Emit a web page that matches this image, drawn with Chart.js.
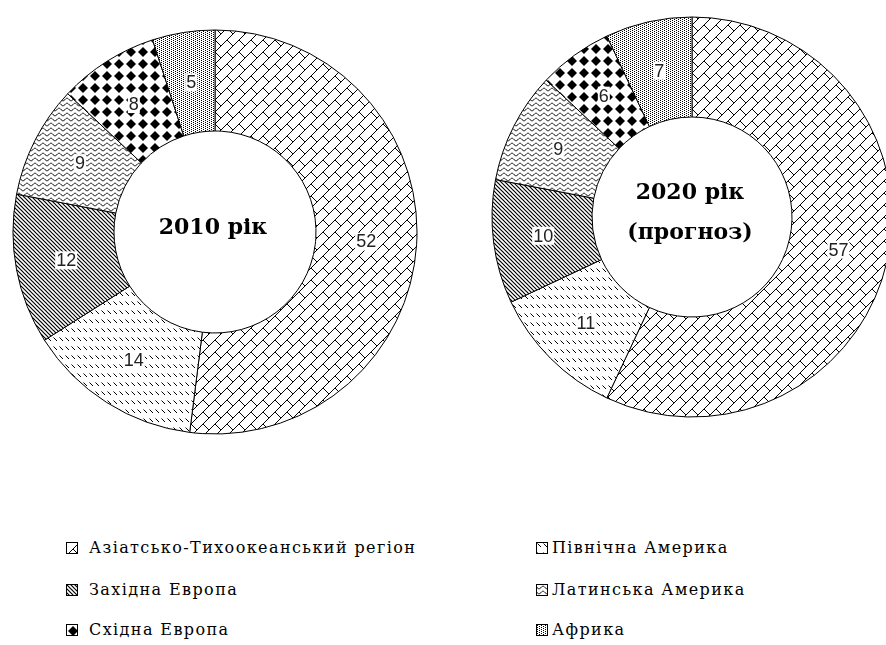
<!DOCTYPE html>
<html>
<head>
<meta charset="utf-8">
<script src="https://cdn.jsdelivr.net/npm/chart.js@4"></script>
<style>
  html, body { margin: 0; padding: 0; background: #fff; width: 886px; height: 645px; overflow: hidden; position: relative; }
  canvas.pie { position: absolute; }
  .leg { position: absolute; height: 20px; }
  .leg canvas { position: absolute; top: 4px; left: 0; border: 1px solid #000; }
  .leg span { position: absolute; top: 0; font-family: "DejaVu Serif", serif; font-size: 16px; letter-spacing: 1.4px; color: #000; white-space: nowrap; line-height: 20px; }
</style>
</head>
<body>
<canvas id="chart2010" class="pie" width="420" height="420" style="left:5px; top:22px"></canvas>
<canvas id="chart2020" class="pie" width="420" height="420" style="left:482px; top:7px"></canvas>
<div id="legend"></div>

<script>
// data (shares, %)
const regions = ['Азіатсько-Тихоокеанський регіон', 'Північна Америка', 'Західна Европа',
                 'Латинська Америка', 'Східна Европа', 'Африка'];
const values2010 = [52, 14, 12, 9, 8, 5];
const values2020 = [57, 11, 10, 9, 6, 7];
const title2010 = ['2010 рік'];
const title2020 = ['2020 рік', '(прогноз)'];

// black & white hatch fills
function makePattern(w, h, draw) {
    const c = document.createElement('canvas');
    c.width = w; c.height = h;
    const g = c.getContext('2d');
    g.fillStyle = '#fff';
    g.fillRect(0, 0, w, h);
    g.fillStyle = '#000';
    g.strokeStyle = '#000';
    g.lineWidth = 1;
    draw(g, w, h);
    return document.createElement('canvas').getContext('2d').createPattern(c, 'repeat');
}

function brick(g, w, h) {
    g.beginPath();
    g.moveTo(-1, h + 1); g.lineTo(w + 1, -1);
    g.moveTo(w / 2, h / 2); g.lineTo(w + 1, h + 1);
    g.stroke();
}
function dashes(g, w, h) {
    g.beginPath();
    g.moveTo(0.5, 0.5); g.lineTo(4, 4);
    g.stroke();
}
function wideDiag(g, w, h) {
    g.lineWidth = 1.2;
    g.beginPath();
    for (let k = -w; k <= w; k += w) {
        g.moveTo(k - 1, -1); g.lineTo(k + w + 1, h + 1);
    }
    g.stroke();
}
function wave(g, w, h) {
    g.beginPath();
    for (let x = -1; x <= w + 1; x += 0.5) {
        const y = 2.5 + 1.3 * Math.sin(2 * Math.PI * x / w);
        if (x === -1) g.moveTo(x, y); else g.lineTo(x, y);
    }
    g.stroke();
}
function diamonds(g, w, h) {
    g.beginPath();
    g.moveTo(w / 2, h / 2 - 5); g.lineTo(w / 2 + 5, h / 2);
    g.lineTo(w / 2, h / 2 + 5); g.lineTo(w / 2 - 5, h / 2);
    g.closePath();
    g.fill();
}
function dots(g, w, h) {
    g.fillRect(0, 0, 1, 1);
    g.fillRect(2, 1, 1, 1);
}

const fills = [
    makePattern(12, 12, brick),
    makePattern(6, 9, dashes),
    makePattern(4, 4, wideDiag),
    makePattern(8, 5, wave),
    makePattern(12, 12, diamonds),
    makePattern(4, 2, dots)
];

// value labels in white boxes
const valueLabels = {
    id: 'valueLabels',
    afterDatasetsDraw(chart) {
        const ctx = chart.ctx;
        const meta = chart.getDatasetMeta(0);
        const data = chart.data.datasets[0].data;
        ctx.save();
        ctx.font = '18px "Liberation Sans", Arial, sans-serif';
        ctx.textAlign = 'center';
        ctx.textBaseline = 'middle';
        meta.data.forEach((arc, i) => {
            const p = arc.tooltipPosition();
            const txt = String(data[i]);
            const tw = ctx.measureText(txt).width;
            ctx.fillStyle = '#fff';
            ctx.fillRect(p.x - tw / 2 - 1, p.y - 9, tw + 2, 18);
            ctx.fillStyle = '#222';
            ctx.fillText(txt, p.x, p.y + 1);
        });
        ctx.restore();
    }
};

// title in the hole
const centerTitle = {
    id: 'centerTitle',
    afterDraw(chart) {
        const lines = chart.options.plugins.centerTitle.lines;
        const arc = chart.getDatasetMeta(0).data[0];
        const ctx = chart.ctx;
        const gap = 40;
        ctx.save();
        ctx.font = 'bold 22px "DejaVu Serif", serif';
        ctx.fillStyle = '#000';
        ctx.textAlign = 'center';
        ctx.textBaseline = 'middle';
        const y0 = arc.y - 4 - (lines.length - 1) * gap / 2;
        lines.forEach((t, i) => ctx.fillText(t, arc.x - 2, y0 + i * gap));
        ctx.restore();
    }
};

function makeDonut(id, values, title, radius) {
    new Chart(document.getElementById(id), {
        type: 'doughnut',
        data: {
            labels: regions,
            datasets: [{
                data: values,
                backgroundColor: fills,
                borderColor: '#000',
                borderWidth: 1
            }]
        },
        options: {
            responsive: false,
            animation: false,
            events: [],
            radius: radius,
            cutout: '50%',
            plugins: {
                legend: { display: false },
                tooltip: { enabled: false },
                centerTitle: { lines: title }
            }
        },
        plugins: [valueLabels, centerTitle]
    });
}

makeDonut('chart2010', values2010, title2010, 202);
makeDonut('chart2020', values2020, title2020, 200);

// legend, two columns, read row by row
const legend = document.getElementById('legend');
const rowY = [538, 580, 620];
regions.forEach((name, i) => {
    const col = i % 2, row = Math.floor(i / 2);
    const item = document.createElement('div');
    item.className = 'leg';
    item.style.left = (col === 0 ? 66 : 536) + 'px';
    item.style.top = rowY[row] + 'px';
    const sw = document.createElement('canvas');
    sw.width = 10; sw.height = 10;
    const g = sw.getContext('2d');
    g.fillStyle = fills[i];
    g.fillRect(0, 0, 10, 10);
    item.appendChild(sw);
    const span = document.createElement('span');
    span.textContent = name;
    span.style.left = (col === 0 ? 23 : 16) + 'px';
    item.appendChild(span);
    legend.appendChild(item);
});
</script>
</body>
</html>
